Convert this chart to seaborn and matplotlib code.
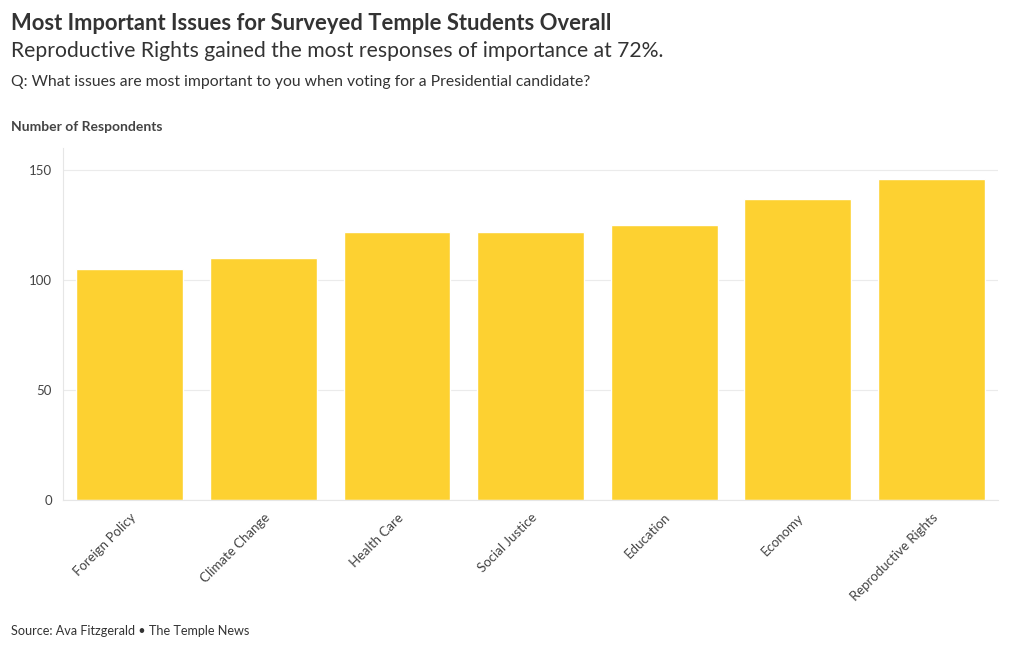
import matplotlib
matplotlib.use("Agg")
import matplotlib.pyplot as plt
import seaborn as sns
import pandas as pd

categories = ["Foreign Policy", "Climate Change", "Health Care", "Social Justice",
              "Education", "Economy", "Reproductive Rights"]
respondents = [105, 110, 122, 122, 125, 137, 146]
y_ticks = [0, 50, 100, 150]

title = "Most Important Issues for Surveyed Temple Students Overall"
subtitle = "Reproductive Rights gained the most responses of importance at 72%."
question = "Q: What issues are most important to you when voting for a Presidential candidate?"
y_label = "Number of Respondents"
source = "Source: Ava Fitzgerald \u2022 The Temple News"

sns.set_theme(style="white")
plt.rcParams["font.family"] = ["Lato", "DejaVu Sans"]

df = pd.DataFrame({"issue": categories, "n": respondents})

fig = plt.figure(figsize=(10.2, 6.5), dpi=100)
ax = fig.add_axes([63 / 1020, 150 / 650, (998 - 63) / 1020, (500 - 148) / 650])

sns.barplot(data=df, x="issue", y="n", color="#FDD131", saturation=1, width=0.8, ax=ax, zorder=2)

ax.set_xlim(-0.5, len(categories) - 0.5)
ax.set_ylim(0, 160)
ax.set_yticks(y_ticks)
ax.set_yticklabels([str(t) for t in y_ticks], fontsize=9.5, color="#444444")
ax.set_xticks(range(len(categories)))
ax.set_xticklabels(categories, rotation=45, ha="right", rotation_mode="anchor",
                   fontsize=9.5, color="#444444")
ax.set_xlabel("")
ax.set_ylabel("")
ax.grid(axis="y", color="#ebebeb", linewidth=0.8, zorder=0)
ax.grid(axis="x", visible=False)
for s in ["top", "right"]:
    ax.spines[s].set_visible(False)
ax.spines["left"].set_color("#e6e6e6")
ax.spines["bottom"].set_color("#e6e6e6")
ax.spines["left"].set_linewidth(0.8)
ax.spines["bottom"].set_linewidth(0.8)
ax.tick_params(axis="both", which="both", length=4, color="#e6e6e6", width=0.8, pad=4)

fig.text(11 / 1020, 1 - 24 / 650, title, fontsize=15.8, fontweight="bold", color="#333333", va="center")
fig.text(11 / 1020, 1 - 51 / 650, subtitle, fontsize=15.2, color="#333333", va="center")
fig.text(11 / 1020, 1 - 82 / 650, question, fontsize=11.3, color="#333333", va="center")
fig.text(11 / 1020, 1 - 127 / 650, y_label, fontsize=10, fontweight="bold", color="#444444", va="center")
fig.text(11 / 1020, 1 - 631 / 650, source, fontsize=9.1, color="#333333", va="center")

fig.savefig("out.png", dpi=100, facecolor="white")
